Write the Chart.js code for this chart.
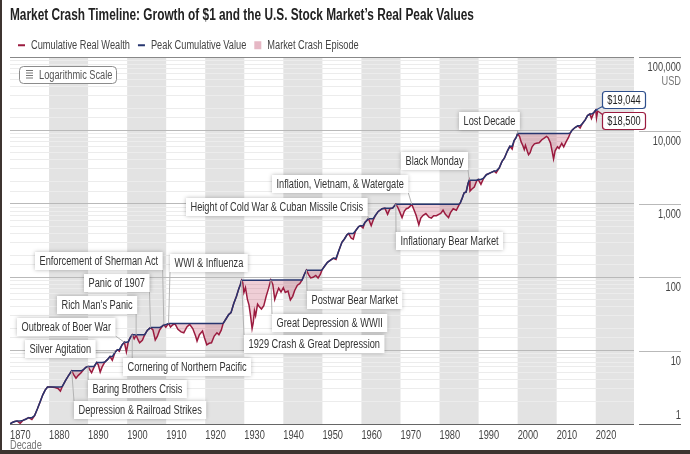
<!DOCTYPE html>
<html>
<head>
<meta charset="utf-8">
<script src="https://cdn.jsdelivr.net/npm/chart.js@4/dist/chart.umd.min.js"></script>
<style>
  html, body { margin: 0; padding: 0; background: #fff; }
  #wrap { width: 690px; height: 454px; position: relative; }
</style>
</head>
<body>
<div id="wrap"><canvas id="crashChart"></canvas></div>
<script>
// Growth of $1 (real, USD), log scale
const years = [
  1870.0, 1870.6, 1871.2, 1871.8, 1872.6, 1873.3, 1874.0, 1874.8, 1875.6, 1876.3,
  1877.0, 1877.7, 1878.4, 1879.0, 1879.6, 1880.5, 1881.5, 1882.3, 1882.9, 1883.4,
  1884.2, 1884.9, 1885.8, 1886.3, 1886.9, 1887.5, 1888.2, 1888.8, 1889.4, 1890.0,
  1890.5, 1890.9, 1891.5, 1892.2, 1892.6, 1893.1, 1893.6, 1894.3, 1895.0, 1895.6,
  1896.2, 1896.9, 1897.5, 1898.0, 1898.7, 1899.3, 1899.8, 1900.3, 1900.8, 1901.3,
  1901.8, 1902.3, 1902.8, 1903.2, 1903.9, 1904.5, 1905.2, 1906.0, 1906.6, 1907.2,
  1907.7, 1908.3, 1909.0, 1909.4, 1909.9, 1910.6, 1911.1, 1911.7, 1912.3, 1913.0,
  1913.8, 1914.5, 1915.3, 1916.0, 1916.8, 1917.5, 1917.9, 1918.5, 1919.3, 1919.8,
  1920.4, 1921.0, 1921.6, 1922.3, 1923.0, 1923.5, 1924.1, 1924.6, 1925.3, 1926.0,
  1926.6, 1927.3, 1928.0, 1928.6, 1929.0, 1929.3, 1929.6, 1929.9, 1930.3, 1930.8,
  1931.2, 1931.6, 1932.0, 1932.3, 1932.6, 1932.9, 1933.4, 1933.8, 1934.4, 1935.0,
  1935.6, 1936.2, 1936.8, 1937.3, 1937.8, 1938.3, 1938.8, 1939.4, 1940.0, 1940.5,
  1941.2, 1941.8, 1942.4, 1942.9, 1943.6, 1944.2, 1944.8, 1945.4, 1945.9, 1946.5,
  1947.0, 1947.6, 1948.3, 1948.9, 1949.5, 1949.9, 1950.5, 1951.3, 1952.0, 1952.8,
  1953.5, 1954.2, 1955.0, 1955.6, 1956.3, 1956.7, 1957.4, 1957.9, 1958.5, 1959.3,
  1959.8, 1960.4, 1960.9, 1961.8, 1962.5, 1963.0, 1963.6, 1964.3, 1965.3, 1966.0,
  1966.7, 1967.3, 1968.0, 1968.8, 1969.3, 1969.8, 1970.4, 1971.0, 1971.5, 1972.0,
  1972.9, 1973.5, 1974.0, 1974.7, 1975.2, 1975.8, 1976.5, 1977.3, 1977.9, 1978.5,
  1979.2, 1979.8, 1980.3, 1980.9, 1981.5, 1982.3, 1982.8, 1983.5, 1984.3, 1984.9,
  1985.3, 1985.8, 1986.3, 1986.8, 1987.3, 1987.6, 1987.8, 1988.3, 1988.9, 1989.5,
  1989.9, 1990.6, 1991.3, 1992.0, 1993.0, 1994.0, 1994.5, 1995.3, 1996.0, 1996.6,
  1997.4, 1998.0, 1998.6, 1999.1, 1999.6, 2000.0, 2000.5, 2000.9, 2001.3, 2001.7,
  2002.0, 2002.5, 2002.8, 2003.2, 2003.7, 2004.3, 2004.8, 2005.5, 2006.2, 2006.8,
  2007.4, 2007.8, 2008.4, 2008.9, 2009.2, 2009.6, 2010.2, 2010.6, 2011.3, 2011.8,
  2012.4, 2013.0, 2013.5, 2014.0, 2014.7, 2015.4, 2016.0, 2016.6, 2017.3, 2017.9,
  2018.5, 2018.9, 2019.5, 2020.0, 2020.2, 2020.5
];
const wealth = [
  1.00, 1.05, 1.08, 1.10, 1.02, 1.12, 1.16, 1.22, 1.15, 1.30,
  1.60, 2.00, 2.50, 2.90, 3.20, 3.20, 3.15, 3.05, 2.80, 3.25,
  3.90, 4.50, 5.30, 4.70, 4.20, 4.60, 5.00, 5.50, 5.90, 6.10,
  5.40, 5.00, 5.90, 6.90, 6.40, 5.10, 6.00, 7.00, 7.60, 8.30,
  7.40, 9.50, 10.3, 9.80, 12.0, 13.0, 9.60, 13.2, 15.0, 16.5,
  14.5, 16.2, 14.0, 12.8, 13.8, 16.5, 19.0, 20.6, 19.2, 14.0,
  15.5, 19.0, 21.5, 22.6, 20.8, 23.5, 21.0, 22.6, 23.0, 19.5,
  18.0, 17.5, 21.0, 22.8, 20.0, 16.0, 13.5, 16.5, 18.5, 15.0,
  12.0, 12.6, 12.8, 15.8, 17.5, 16.5, 19.0, 23.6, 27.0, 31.0,
  33.0, 44.0, 55.0, 70.0, 80.0, 91.0, 84.0, 62.0, 72.0, 50.0,
  42.0, 30.0, 20.0, 24.0, 35.0, 30.0, 43.0, 40.0, 37.0, 41.0,
  55.0, 70.0, 92.0, 80.0, 50.0, 60.0, 71.0, 63.0, 72.0, 62.0,
  65.0, 49.0, 55.0, 66.0, 78.0, 82.0, 92.0, 110, 125, 108,
  98, 100, 106, 98, 110, 126, 140, 160, 170, 182,
  175, 230, 300, 330, 380, 395, 340, 330, 430, 490,
  505, 470, 560, 630, 505, 600, 700, 790, 860, 875,
  720, 860, 880, 990, 900, 780, 650, 800, 860, 880,
  985, 820, 700, 520, 640, 700, 740, 660, 640, 690,
  690, 720, 740, 820, 720, 650, 760, 860, 820, 950,
  1030, 1200, 1420, 1450, 1900, 2100, 1500, 1600, 1700, 2050,
  2150, 1850, 2250, 2500, 2650, 2800, 2650, 3100, 3800, 4200,
  5300, 6100, 5600, 7300, 8000, 9100, 8300, 7000, 6300, 5500,
  6300, 5200, 4700, 5000, 6000, 6600, 6700, 6800, 7500, 7900,
  8300, 8000, 6800, 5000, 4100, 5300, 6000, 5700, 6700, 6000,
  7000, 8000, 9300, 10200, 11000, 11600, 10800, 12500, 14000, 16000,
  16800, 14600, 17500, 19044, 14800, 18500
];
// peak cumulative value = running high of the wealth series
let runHigh = 0;
const peak = wealth.map(v => (runHigh = Math.max(runHigh, v)));

const yTickValues = [1, 10, 100, 1000, 10000, 100000];
const yTickLabels = ['1', '10', '100', '1,000', '10,000', '100,000'];

// crash episodes: label text and the peak they start from
const episodeNames = [
  'Depression & Railroad Strikes', 'Baring Brothers Crisis', 'Silver Agitation',
  'Outbreak of Boer War', 'Cornering of Northern Pacific', "Rich Man\u2019s Panic",
  'Panic of 1907', 'Enforcement of Sherman Act', 'WWI & Influenza',
  '1929 Crash & Great Depression', 'Great Depression & WWII', 'Postwar Bear Market',
  'Height of Cold War & Cuban Missile Crisis', 'Inflation, Vietnam, & Watergate',
  'Inflationary Bear Market', 'Black Monday', 'Lost Decade'
];
const episodeYears = [1885.8, 1890.0, 1896.9, 1899.3, 1901.3, 1902.3, 1906.0, 1909.4, 1910.6,
  1929.3, 1936.8, 1945.9, 1961.8, 1972.9, 1968.8, 1987.6, 2000.0];
const episodeValues = [5.3, 6.1, 9.5, 13.0, 16.5, 16.2, 20.6, 22.6, 23.5,
  91, 92, 125, 630, 985, 990, 2100, 9100];

const peakLabel = { year: 2020.0, value: 19044, text: '$19,044' };
const lastLabel = { year: 2020.5, value: 18500, text: '$18,500' };

// ---- layout / style ----
const FONT = "'Liberation Sans', Arial, sans-serif";
const RED = '#9b1b3f';
const BLUE = '#27366f';
const PINK_FILL = 'rgba(180, 30, 70, 0.22)';
const PINK_KEY = '#e6b8c5';
const BAND = '#e3e3e3';

// box positions of the callouts (left, top) in pixels
const calloutBoxes = [
  [74, 401], [88, 380], [25, 340], [17, 318], [123, 358], [57, 296], [84, 274], [35, 252],
  [170, 254], [244, 335], [272, 314], [307, 291], [186, 198], [272, 175], [396, 232],
  [401, 152], [459, 112]
];

Chart.defaults.font.family = FONT;

// no condensed face is installed, so squeeze text horizontally on this canvas
const canvas = document.getElementById('crashChart');
const c2d = canvas.getContext('2d');
const squeeze = () => (/bold/.test(c2d.font) ? 0.74 : 0.77);
const nativeFill = c2d.fillText.bind(c2d);
const nativeMeasure = c2d.measureText.bind(c2d);
c2d.fillText = (text, x, y) => {
  c2d.save();
  c2d.translate(x, y);
  c2d.scale(squeeze(), 1);
  nativeFill(text, 0, 0);
  c2d.restore();
};
c2d.measureText = text => {
  const m = nativeMeasure(text);
  const s = squeeze();
  return {
    width: m.width * s,
    actualBoundingBoxLeft: m.actualBoundingBoxLeft * s,
    actualBoundingBoxRight: m.actualBoundingBoxRight * s,
    actualBoundingBoxAscent: m.actualBoundingBoxAscent,
    actualBoundingBoxDescent: m.actualBoundingBoxDescent
  };
};

const bandPlugin = {
  id: 'decadeBands',
  beforeDraw(chart) {
    const { ctx, chartArea: a, scales: { x } } = chart;
    ctx.save();
    ctx.fillStyle = BAND;
    for (let d = 1880; d < 2030; d += 20) {
      const x0 = x.getPixelForValue(d);
      const x1 = Math.min(x.getPixelForValue(d + 10), a.right);
      ctx.fillRect(x0, a.top, x1 - x0, a.bottom - a.top);
    }
    ctx.restore();
  }
};

function gridColor(v) {
  if (v === 1) return '#666';
  if (v === 100000) return '#888';
  const l = Math.log10(v);
  if (Math.abs(l - Math.round(l)) < 1e-9) return '#b9b9b9';
  return '#ececec';
}

const overlayPlugin = {
  id: 'overlay',
  afterDraw(chart) {
    const { ctx, chartArea: a, scales: { x, y } } = chart;
    ctx.save();

    // right side value labels with short rules
    ctx.font = '12px ' + FONT;
    ctx.textAlign = 'right';
    ctx.textBaseline = 'middle';
    yTickValues.forEach((v, i) => {
      const py = Math.round(y.getPixelForValue(v)) + 0.5;
      ctx.strokeStyle = gridColor(v);
      ctx.lineWidth = 1;
      ctx.beginPath();
      ctx.moveTo(a.right + 5, py);
      ctx.lineTo(681, py);
      ctx.stroke();
      ctx.fillStyle = '#444';
      ctx.fillText(yTickLabels[i], 681, v === 1 ? py - 9 : py + 10);
    });
    ctx.fillStyle = '#777';
    ctx.fillText('USD', 681, y.getPixelForValue(100000) + 24);

    // logarithmic scale badge
    ctx.strokeStyle = '#8c8c8c';
    ctx.fillStyle = '#fff';
    ctx.beginPath();
    ctx.roundRect(19.5, 66.5, 97, 17, 4);
    ctx.fill();
    ctx.stroke();
    ctx.strokeStyle = '#777';
    for (let i = 0; i < 4; i++) {
      ctx.beginPath();
      ctx.moveTo(26, 70.5 + i * 2.5);
      ctx.lineTo(33, 70.5 + i * 2.5);
      ctx.stroke();
    }
    ctx.fillStyle = '#555';
    ctx.textAlign = 'left';
    ctx.fillText('Logarithmic Scale', 39, 75.5);

    // crash episode callouts
    episodeNames.forEach((name, i) => {
      const ax = x.getPixelForValue(episodeYears[i]);
      const ay = y.getPixelForValue(episodeValues[i]);
      const [left, top] = calloutBoxes[i];
      const w = ctx.measureText(name).width + 9;
      const h = 18;
      const lx = Math.min(Math.max(ax, left), left + w);
      const ly = Math.min(Math.max(ay, top), top + h);
      ctx.strokeStyle = '#b3b3b3';
      ctx.lineWidth = 1;
      ctx.beginPath();
      ctx.moveTo(lx, ly);
      ctx.lineTo(ax, ay);
      ctx.stroke();
      ctx.save();
      ctx.shadowColor = 'rgba(0,0,0,0.28)';
      ctx.shadowBlur = 4;
      ctx.fillStyle = '#fff';
      ctx.fillRect(left, top, w, h);
      ctx.restore();
      ctx.fillStyle = '#333';
      ctx.textAlign = 'left';
      ctx.fillText(name, left + 4.5, top + h / 2 + 0.5);
    });

    // end-of-series value tags
    const tag = (lbl, top, color) => {
      const ax = x.getPixelForValue(lbl.year);
      const ay = y.getPixelForValue(lbl.value);
      const left = 602.5, w = 43, h = 17;
      ctx.strokeStyle = color;
      ctx.lineWidth = 1.2;
      ctx.beginPath();
      ctx.moveTo(left, top < ay ? top + h - 2 : top + 2);
      ctx.lineTo(ax, ay);
      ctx.stroke();
      ctx.fillStyle = '#fff';
      ctx.beginPath();
      ctx.roundRect(left, top, w, h, 3);
      ctx.fill();
      ctx.stroke();
      ctx.fillStyle = '#222';
      ctx.textAlign = 'center';
      ctx.fillText(lbl.text, left + w / 2, top + h / 2 + 0.5);
    };
    tag(peakLabel, 91.5, '#2e4f8c');
    tag(lastLabel, 112.5, RED);

    // dark frame on left and bottom edges
    ctx.fillStyle = '#3d3430';
    ctx.fillRect(0, 0, 2, chart.height);
    ctx.fillRect(0, chart.height - 4, chart.width, 4);
    ctx.restore();
  }
};

new Chart(canvas, {
  type: 'line',
  data: {
    datasets: [
      {
        label: 'Cumulative Real Wealth',
        data: years.map((yr, i) => ({ x: yr, y: wealth[i] })),
        borderColor: RED,
        backgroundColor: PINK_FILL,
        borderWidth: 1.5,
        pointRadius: 0,
        tension: 0,
        fill: 1,
        order: 1
      },
      {
        label: 'Peak Cumulative Value',
        data: years.map((yr, i) => ({ x: yr, y: peak[i] })),
        borderColor: BLUE,
        borderWidth: 1.5,
        pointRadius: 0,
        tension: 0,
        fill: false,
        order: 0
      }
    ]
  },
  options: {
    responsive: true,
    maintainAspectRatio: false,
    animation: false,
    events: [],
    layout: { padding: { left: 10, right: 56, top: 0, bottom: 0 } },
    plugins: {
      title: {
        display: true,
        text: 'Market Crash Timeline: Growth of $1 and the U.S. Stock Market\u2019s Real Peak Values',
        align: 'start',
        color: '#222',
        font: { size: 16, weight: 'bold' },
        padding: { top: 6, bottom: 6 }
      },
      legend: {
        display: true,
        align: 'start',
        onClick: null,
        maxHeight: 26,
        labels: {
          usePointStyle: true,
          pointStyleWidth: 7,
          boxWidth: 7,
          boxHeight: 8,
          padding: 8,
          color: '#444',
          font: { size: 12 },
          generateLabels: () => [
            { text: 'Cumulative Real Wealth', pointStyle: 'line', strokeStyle: RED, fillStyle: RED, lineWidth: 2, fontColor: '#444', hidden: false },
            { text: 'Peak Cumulative Value', pointStyle: 'line', strokeStyle: BLUE, fillStyle: BLUE, lineWidth: 2, fontColor: '#444', hidden: false },
            { text: 'Market Crash Episode', pointStyle: 'rect', strokeStyle: PINK_KEY, fillStyle: PINK_KEY, lineWidth: 0, fontColor: '#444', hidden: false }
          ]
        }
      },
      tooltip: { enabled: false }
    },
    scales: {
      x: {
        type: 'linear',
        min: 1870,
        max: 2029.8,
        grid: { display: false, drawTicks: false },
        border: { display: false },
        ticks: {
          stepSize: 10,
          includeBounds: false,
          autoSkip: false,
          maxRotation: 0,
          align: 'start',
          padding: 4,
          color: '#444',
          font: { size: 12 },
          callback: v => (v % 10 === 0 ? String(v) : '')
        },
        title: {
          display: true,
          text: 'Decade',
          align: 'start',
          color: '#777',
          font: { size: 12 },
          padding: { top: 0, bottom: 1.5 }
        },
        afterFit: s => { s.height = 30; }
      },
      y: {
        type: 'logarithmic',
        position: 'right',
        min: 1,
        max: 100000,
        border: { display: false },
        ticks: { display: false },
        grid: {
          drawTicks: false,
          lineWidth: 1,
          color: c => gridColor(c.tick.value)
        },
        afterFit: s => { s.width = 0; }
      }
    }
  },
  plugins: [bandPlugin, overlayPlugin]
});
</script>
</body>
</html>
